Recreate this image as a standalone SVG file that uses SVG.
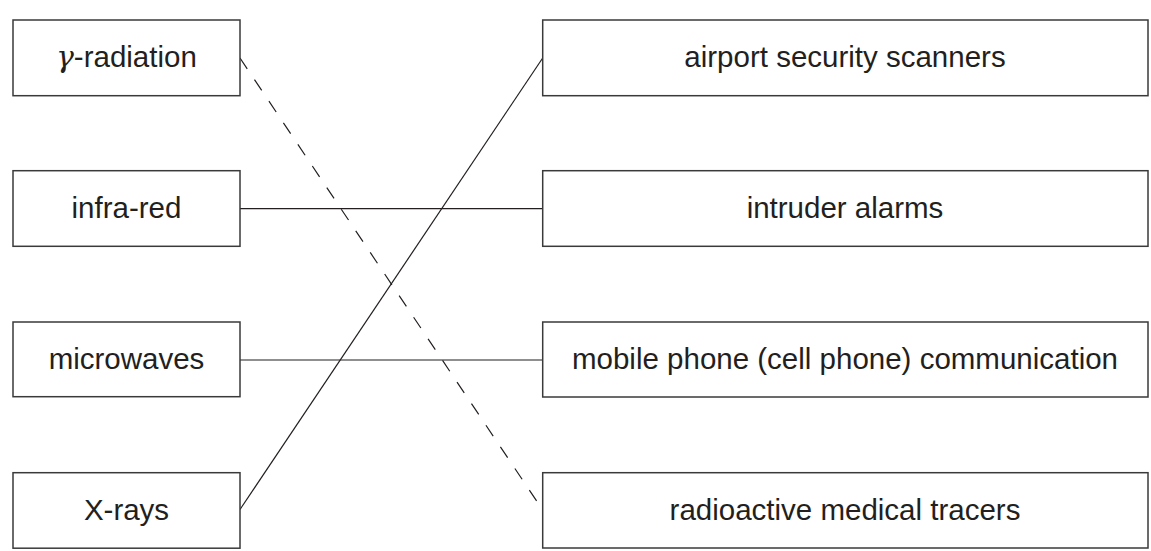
<svg xmlns="http://www.w3.org/2000/svg" width="1151" height="551" viewBox="0 0 1151 551">
<style>
.box{fill:#fff;stroke:#3a3a3a;stroke-width:1.5}
.lbl{font-family:"Liberation Sans",Arial,sans-serif;font-size:29.5px;fill:#231f20;text-anchor:middle}
.ln{stroke:#231f20;stroke-width:1.2;fill:none}
.dash{stroke-dasharray:13 13}
</style>
<rect width="1151" height="551" fill="#fff"/>
<g id="connectors">
<line class="ln dash" x1="240" y1="58" x2="542.7" y2="510"/>
<line class="ln" x1="240" y1="509.5" x2="542.7" y2="58"/>
<line class="ln" x1="240" y1="208.7" x2="542.7" y2="208.7"/>
<line class="ln" x1="240" y1="360" x2="542.7" y2="360"/>
</g>
<g id="gamma"><rect class="box" x="13" y="20" width="227" height="75.7"/><text class="lbl" x="126.5" y="66.5"><tspan font-family="'DejaVu Serif',serif" font-style="italic">γ</tspan>-radiation</text></g>
<g id="infrared"><rect class="box" x="13" y="170.7" width="227" height="75.6"/><text class="lbl" x="126.5" y="217.5">infra-red</text></g>
<g id="microwaves"><rect class="box" x="13" y="322" width="227" height="74.7"/><text class="lbl" x="126.5" y="368.5">microwaves</text></g>
<g id="xrays"><rect class="box" x="13" y="472.7" width="227" height="75.5"/><text class="lbl" x="126.5" y="519.5">X-rays</text></g>
<g id="airport"><rect class="box" x="542.7" y="20" width="605.3" height="75.7"/><text class="lbl" x="845" y="66.5">airport security scanners</text></g>
<g id="intruder"><rect class="box" x="542.7" y="170.7" width="605.3" height="75.6"/><text class="lbl" x="845" y="217.5">intruder alarms</text></g>
<g id="mobile"><rect class="box" x="542.7" y="322" width="605.3" height="75"/><text class="lbl" x="845" y="368.5">mobile phone (cell phone) communication</text></g>
<g id="tracers"><rect class="box" x="542.7" y="472.7" width="605.3" height="75.3"/><text class="lbl" x="845" y="519.5">radioactive medical tracers</text></g>
</svg>
